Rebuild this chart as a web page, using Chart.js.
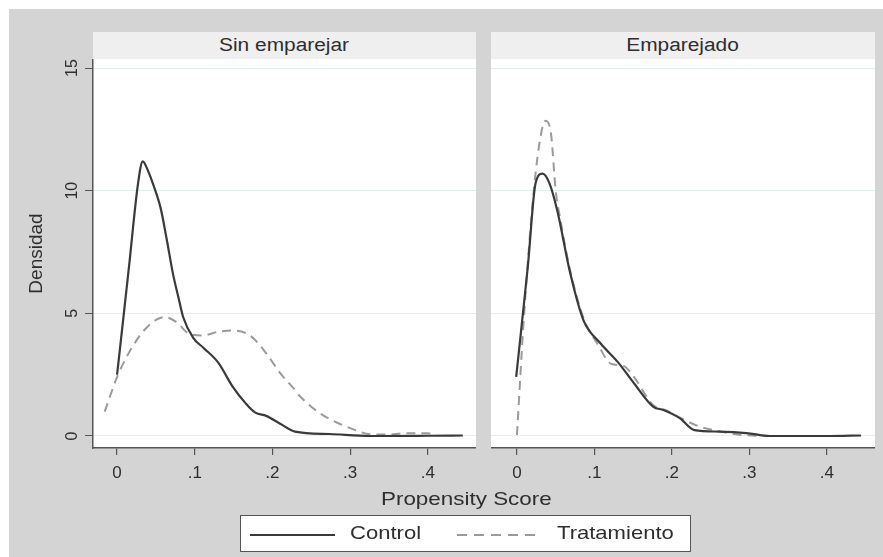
<!DOCTYPE html>
<html>
<head>
<meta charset="utf-8">
<script src="https://cdn.jsdelivr.net/npm/chart.js@4.4.1/dist/chart.umd.min.js"></script>
<style>
    body { margin: 0; width: 883px; height: 557px; background: #fff; position: relative; overflow: hidden; font-family: "Liberation Sans", Arial, sans-serif; color: #2e2e2e; }
    #frame { position: absolute; left: 9px; top: 9px; width: 874px; height: 548px; background: #d4d4d4; }
    .strip { position: absolute; top: 32px; height: 27px; background: #efefef; text-align: center; line-height: 27px; }
    .txt { display: inline-block; transform: scaleX(1.16); font-size: 18px; }
    canvas { position: absolute; }
    #xtitle { position: absolute; left: 300px; width: 332px; top: 487px; text-align: center; line-height: 24px; }
    #xtitle .txt { font-size: 19px; transform: scaleX(1.18); }
    #legend { position: absolute; left: 240px; top: 515px; width: 449px; height: 35px; background: #fff; border: 1.5px solid #555; }
    #legend .txt { position: absolute; top: 6px; font-size: 19px; transform-origin: left center; }
    #legend svg { position: absolute; left: 0; top: 0; }
</style>
</head>
<body>
<div id="frame"></div>
<div class="strip" style="left:93px; width:383px;"><span class="txt">Sin emparejar</span></div>
<div class="strip" style="left:491px; width:384px;"><span class="txt">Emparejado</span></div>
<canvas id="leftChart" width="456" height="430" style="left:20px; top:59px;"></canvas>
<canvas id="rightChart" width="384" height="430" style="left:491px; top:59px;"></canvas>
<div id="xtitle"><span class="txt">Propensity Score</span></div>
<div id="legend">
    <svg width="449" height="35">
        <line x1="9" y1="19" x2="94" y2="19" stroke="#3a3a3a" stroke-width="2.2"></line>
        <line x1="216" y1="19" x2="301" y2="19" stroke="#9b9b9b" stroke-width="2" stroke-dasharray="10 7"></line>
    </svg>
    <span class="txt" style="left:109px;">Control</span>
    <span class="txt" style="left:316px;">Tratamiento</span>
</div>

<script>
// Axis ticks (same for both panels)
const xTicks = [0, 0.1, 0.2, 0.3, 0.4];
const xTickLabels = ['0', '.1', '.2', '.3', '.4'];
const yTicks = [0, 5, 10, 15];

// Panel "Sin emparejar" - control group density
const sinControlX = [0, 0.015, 0.027, 0.033, 0.040, 0.046, 0.056, 0.064, 0.072, 0.079, 0.085, 0.098, 0.111, 0.130, 0.149, 0.165, 0.178, 0.192, 0.210, 0.229, 0.274, 0.326, 0.400, 0.445];
const sinControlY = [2.5, 6.8, 10.3, 11.2, 10.8, 10.3, 9.3, 8.0, 6.6, 5.65, 4.85, 4.0, 3.6, 3.0, 2.0, 1.35, 0.95, 0.82, 0.5, 0.18, 0.08, 0.0, 0.01, 0.02];

// Panel "Sin emparejar" - treatment group density
const sinTratX = [-0.016, 0.001, 0.025, 0.046, 0.061, 0.076, 0.094, 0.111, 0.130, 0.147, 0.171, 0.192, 0.210, 0.227, 0.236, 0.261, 0.300, 0.330, 0.350, 0.368, 0.399, 0.410];
const sinTratY = [0.99, 2.48, 3.9, 4.65, 4.85, 4.65, 4.15, 4.1, 4.25, 4.3, 4.1, 3.37, 2.56, 1.95, 1.6, 0.93, 0.32, 0.06, 0.06, 0.11, 0.11, 0.08];

// Panel "Emparejado" - control group density
const empControlX = [-0.001, 0.014, 0.024, 0.033, 0.042, 0.052, 0.069, 0.086, 0.108, 0.130, 0.151, 0.176, 0.189, 0.210, 0.229, 0.261, 0.296, 0.326, 0.403, 0.444];
const empControlY = [2.41, 6.9, 10.3, 10.7, 10.3, 9.19, 6.6, 4.7, 3.77, 3.02, 2.15, 1.19, 1.06, 0.73, 0.24, 0.18, 0.12, 0.0, 0.0, 0.02];

// Panel "Emparejado" - treatment group density
const empTratX = [0.0, 0.009, 0.022, 0.031, 0.037, 0.044, 0.050, 0.055, 0.069, 0.086, 0.105, 0.121, 0.138, 0.151, 0.176, 0.192, 0.210, 0.236, 0.260, 0.287, 0.330];
const empTratY = [0.04, 4.85, 10.1, 12.3, 12.85, 12.3, 10.0, 9.0, 6.7, 4.8, 3.7, 2.95, 2.85, 2.4, 1.25, 1.05, 0.75, 0.38, 0.2, 0.05, 0.0];

// zip x and y arrays into points
function toPoints(xs, ys) {
    return xs.map((x, i) => ({ x: x, y: ys[i] }));
}

// white plot area behind the lines
const plotBackground = {
    id: 'plotBackground',
    beforeDraw(chart) {
        const a = chart.chartArea;
        chart.ctx.save();
        chart.ctx.fillStyle = '#fff';
        chart.ctx.fillRect(a.left, a.top, a.width, a.height);
        chart.ctx.restore();
    }
};

function makePanel(canvasId, controlPts, tratPts, xMin, showYAxis) {
    return new Chart(document.getElementById(canvasId), {
        type: 'line',
        data: {
            datasets: [{
                label: 'Control',
                data: controlPts,
                borderColor: '#3a3a3a',
                borderWidth: 2.2,
                pointRadius: 0,
                cubicInterpolationMode: 'monotone',
                fill: false
            }, {
                label: 'Tratamiento',
                data: tratPts,
                borderColor: '#9b9b9b',
                borderWidth: 2,
                borderDash: [9, 6],
                pointRadius: 0,
                cubicInterpolationMode: 'monotone',
                fill: false
            }]
        },
        options: {
            responsive: false,
            animation: false,
            plugins: { legend: { display: false }, tooltip: { enabled: false } },
            layout: { padding: 0 },
            scales: {
                x: {
                    type: 'linear',
                    min: xMin,
                    max: 0.462,
                    afterBuildTicks: s => { s.ticks = xTicks.map(v => ({ value: v })); },
                    afterFit: s => { s.height = 41; s.paddingLeft = 0; s.paddingRight = 0; },
                    ticks: {
                        callback: v => xTickLabels[xTicks.indexOf(v)],
                        color: '#2e2e2e',
                        font: { family: 'Liberation Sans', size: 17 },
                        padding: 8,
                        maxRotation: 0
                    },
                    grid: { drawOnChartArea: false, color: '#555', tickLength: 7, lineWidth: 1.2 },
                    border: { display: true, color: '#555', width: 1.5 }
                },
                y: {
                    min: -0.49,
                    max: 15.37,
                    afterBuildTicks: s => { s.ticks = yTicks.map(v => ({ value: v })); },
                    afterFit: s => { s.width = showYAxis ? 73 : 0; s.paddingTop = 0; s.paddingBottom = 0; },
                    ticks: {
                        display: showYAxis,
                        color: '#2e2e2e',
                        font: { family: 'Liberation Sans', size: 16 },
                        minRotation: 90,
                        maxRotation: 90,
                        crossAlign: 'center',
                        padding: 4
                    },
                    grid: { color: '#e3eeee', lineWidth: 1, tickColor: '#555', tickLength: 8, drawTicks: showYAxis },
                    border: { display: showYAxis, color: '#555', width: 1.5 },
                    title: {
                        display: showYAxis,
                        text: 'Densidad',
                        color: '#2e2e2e',
                        font: { family: 'Liberation Sans', size: 19 },
                        padding: { top: 5, bottom: 0 }
                    }
                }
            }
        },
        plugins: [plotBackground]
    });
}

makePanel('leftChart', toPoints(sinControlX, sinControlY), toPoints(sinTratX, sinTratY), -0.031, true);
makePanel('rightChart', toPoints(empControlX, empControlY), toPoints(empTratX, empTratY), -0.0335, false);
</script>
</body>
</html>
